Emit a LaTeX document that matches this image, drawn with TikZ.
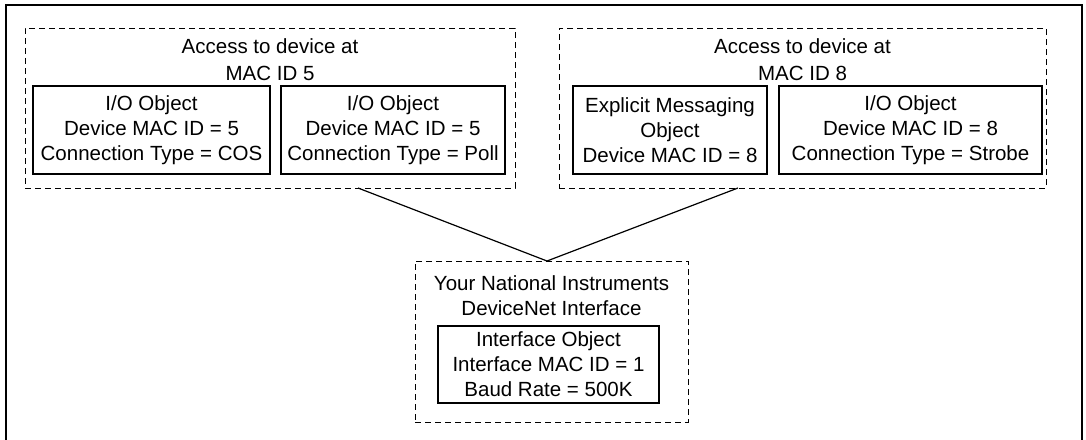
\documentclass[tikz,border=0pt]{standalone}
\usepackage{fontspec}
\setmainfont{Liberation Sans}
\begin{document}
\begin{tikzpicture}[x=1pt,y=-1pt,
  every node/.style={inner sep=0pt, outer sep=0pt},
  txt/.style={font=\fontsize{20.5}{25}\selectfont, align=center},
  ttl/.style={font=\fontsize{20.5}{27}\selectfont, align=center},
  objbox/.style={draw, line width=1.3pt, minimum height=88pt},
  group/.style={draw, line width=1pt, dash pattern=on 6pt off 4pt},
  frame/.style={line width=2.6pt},
  link/.style={line width=1.2pt}]
\useasboundingbox (0,0) rectangle (1086,439);
\draw[frame] (6,440) -- (6,5) -- (1082,5) -- (1082,440);
% groups
\node[group, minimum width=490pt, minimum height=160pt] (G5) at (270,108) {};
\node[group, minimum width=487pt, minimum height=160pt] (G8) at (802.5,108) {};
\node[group, minimum width=273pt, minimum height=161pt] (GI) at (551.5,341.5) {};
% titles
\node[ttl] (T5) at (270,59.5) {Access to device at\\MAC ID 5};
\node[ttl] (T8) at (802.5,59.5) {Access to device at\\MAC ID 8};
\node[txt] (TI) at (551.5,296) {Your National Instruments\\DeviceNet Interface};
% objects
\node[objbox, minimum width=237pt] (O1) at (151.5,130) {};
\node[txt] at (O1) {I/O Object\\Device MAC ID = 5\\Connection Type = COS};
\node[objbox, minimum width=224pt] (O2) at (393,130) {};
\node[txt] at (O2) {I/O Object\\Device MAC ID = 5\\Connection Type = Poll};
\node[objbox, minimum width=194pt] (O3) at (670,130) {};
\node[txt] at (O3) {Explicit Messaging\\Object\\Device MAC ID = 8};
\node[objbox, minimum width=263pt] (O4) at (910.5,130) {};
\node[txt] at (O4) {I/O Object\\Device MAC ID = 8\\Connection Type = Strobe};
\node[objbox, minimum width=221pt, minimum height=77pt] (OI) at (548.5,364.5) {};
\node[txt] at (OI) {Interface Object\\Interface MAC ID = 1\\Baud Rate = 500K};
% connectors
\draw[link] ([xshift=88pt]G5.south) -- ([xshift=-4.5pt]GI.north);
\draw[link] ([xshift=-64.5pt]G8.south) -- ([xshift=-4.5pt]GI.north);
\end{tikzpicture}
\end{document}
